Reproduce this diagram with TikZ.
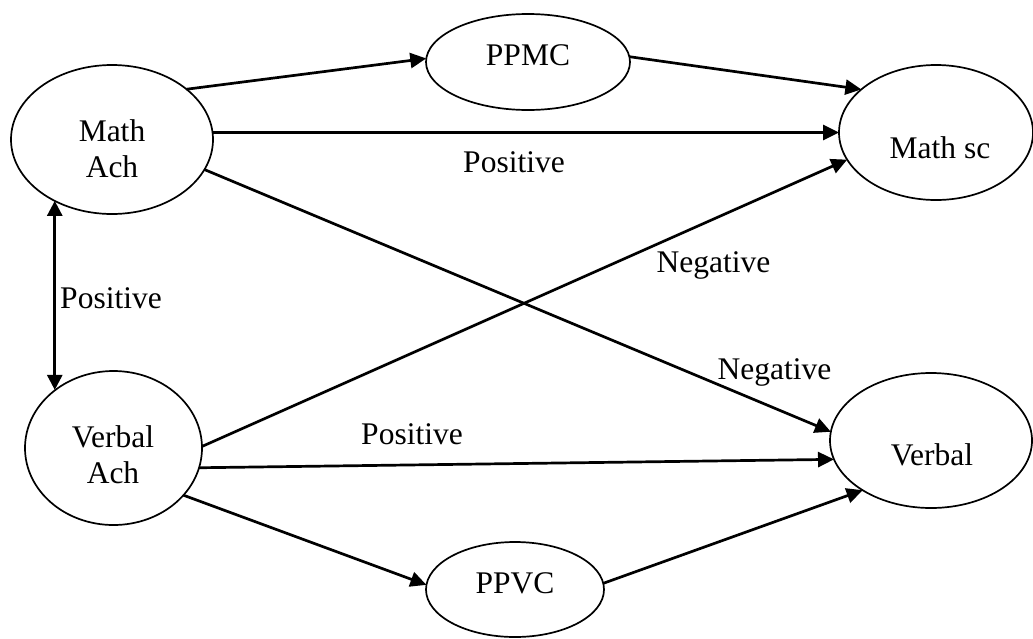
\documentclass[tikz,border=0pt]{standalone}
\usepackage{fontspec}
\setmainfont{Liberation Serif}
\usetikzlibrary{shapes.geometric,arrows.meta}
\begin{document}
\begin{tikzpicture}[x=1pt,y=-1pt,
  oval/.style={draw,ellipse,line width=1.7pt,inner sep=0pt,outer sep=0pt},
  lbl/.style={font=\fontsize{31.5}{36}\selectfont,inner sep=0pt},
  conn/.style={line width=2.7pt,-{Triangle[length=16pt,width=15pt]}},
  bidir/.style={line width=2.7pt,{Triangle[length=15pt,width=15pt]}-{Triangle[length=15pt,width=15pt]}},
]
\useasboundingbox (0,0) rectangle (1033,638);
% ellipses
\node[oval,minimum width=202pt,minimum height=149pt] (mathach) at (112,139.5) {};
\node[oval,minimum width=177pt,minimum height=154pt] (verbalach) at (113.5,448) {};
\node[oval,minimum width=204pt,minimum height=96pt] (ppmc) at (528,62) {};
\node[oval,minimum width=178pt,minimum height=95pt] (ppvc) at (515,589.5) {};
\node[oval,minimum width=194pt,minimum height=135pt] (mathsc) at (936,132.5) {};
\node[oval,minimum width=202pt,minimum height=135pt] (verbal) at (931,440.5) {};
% node texts
\node[lbl,align=center] (tmathach) at (112,149) {Math\\Ach};
\node[lbl,align=center] (tverbalach) at (113,455) {Verbal\\Ach};
\node[lbl,anchor=base] (tppmc) at (528,65) {PPMC};
\node[lbl,anchor=base] (tppvc) at (515,593) {PPVC};
\node[lbl,anchor=base] (tmathsc) at (940,158) {Math sc};
\node[lbl,anchor=base] (tverbal) at (932,465) {Verbal};
% connectors
\draw[conn] (mathach.34) -- (ppmc.178);
\draw[conn] (ppmc.3) -- (mathsc.150);
\draw[conn] (mathach.4) -- (mathsc.180);
\draw[conn] (mathach.-18) -- (verbal.175);
\draw[conn] (verbalach.1) -- (mathsc.197);
\draw[conn] (verbalach.-13) -- (verbal.191);
\draw[conn] (verbalach.-34) -- (ppvc.177);
\draw[conn] (ppvc.4) -- (verbal.216);
\draw[bidir] (mathach.227) -- (mathach.227 |- verbalach.135);
% labels
\node[lbl,anchor=base] (lpos1) at (514,172) {Positive};
\node[lbl,anchor=base] (lneg1) at (713.5,272) {Negative};
\node[lbl,anchor=base] (lneg2) at (774.5,379) {Negative};
\node[lbl,anchor=base] (lpos2) at (412,444) {Positive};
\node[lbl,anchor=base] (lpos3) at (111,308) {Positive};
\end{tikzpicture}
\end{document}
